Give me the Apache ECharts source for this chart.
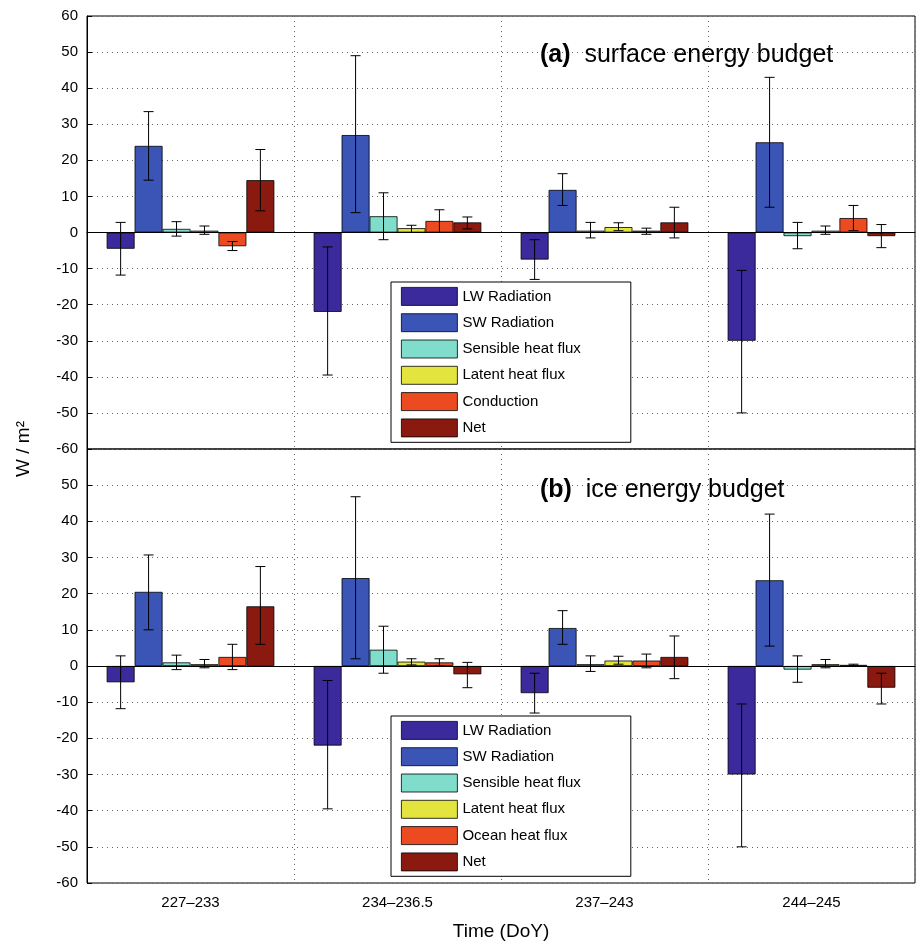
<!DOCTYPE html>
<html><head><meta charset="utf-8">
<script src="https://cdn.jsdelivr.net/npm/echarts@6/dist/echarts.min.js"></script>
<style>html,body{margin:0;background:#fff}#chart{width:919px;height:944px}</style>
</head><body><div id="chart"></div>
<script>
// categorías y nombres de series
const categories = ['227\u2013233', '234\u2013236.5', '237\u2013243', '244\u2013245'];
const namesA = ['LW Radiation', 'SW Radiation', 'Sensible heat flux', 'Latent heat flux', 'Conduction', 'Net'];
const namesB = ['LW Radiation', 'SW Radiation', 'Sensible heat flux', 'Latent heat flux', 'Ocean heat flux', 'Net'];
const colors = ['#3b2a9c', '#3a55b6', '#80dccb', '#e4e43e', '#ec4b22', '#8a1a10'];

// (a) valores y barras de error [min, max], una fila por serie
const surfVals = [[-4.5, -22, -7.5, -30], [24, 27, 11.8, 25], [1, 4.5, 0.5, -1], [0.5, 1.2, 1.5, 0.5], [-3.8, 3.2, 0.5, 4], [14.5, 2.8, 2.8, -1]];
const surfErr = [
  [[-11.8, 2.8], [-39.5, -4], [-13, -2], [-50, -10.5]],
  [[14.5, 33.5], [5.5, 49], [7.5, 16.3], [7, 43]],
  [[-1, 3], [-2, 11], [-1.5, 2.8], [-4.5, 2.8]],
  [[-0.5, 1.8], [0, 2], [0.5, 2.7], [-0.5, 1.8]],
  [[-5, -2.5], [0, 6.3], [-0.5, 1.2], [0.5, 7.5]],
  [[6, 23], [1, 4.3], [-1.5, 7], [-4.2, 2.2]]
];
// (b)
const iceVals = [[-4.5, -22, -7.5, -30], [20.5, 24.3, 10.5, 23.7], [1, 4.5, 0.5, -1], [0.5, 1.2, 1.5, 0.5], [2.5, 1, 1.5, 0.3], [16.5, -2.3, 2.5, -6]];
const iceErr = [
  [[-11.8, 2.8], [-39.5, -4], [-13, -2], [-50, -10.5]],
  [[10, 30.7], [2, 46.8], [6, 15.3], [5.5, 42]],
  [[-1, 3], [-2, 11], [-1.5, 2.8], [-4.5, 2.8]],
  [[-0.5, 1.8], [0.3, 2], [0.5, 2.7], [-0.5, 1.8]],
  [[-1, 6], [0, 2], [-0.5, 3.3], [0, 0.5]],
  [[6, 27.5], [-6, 1], [-3.5, 8.3], [-10.5, -2]]
];

const GAP = 0.19;
function errSeries(err, k, axis) {
  return {
    type: 'custom', xAxisIndex: axis, yAxisIndex: axis, silent: true, z: 5,
    data: err[k].map((e, i) => [i, e[0], e[1]]),
    renderItem: function (params, api) {
      const w = api.size([1, 0])[0] * (1 - GAP) / 6;
      const lo = api.coord([api.value(0), api.value(1)]);
      const hi = api.coord([api.value(0), api.value(2)]);
      const x = lo[0] + (k - 2.5) * w;
      const cap = 5;
      const st = { stroke: '#000', lineWidth: 1 };
      return { type: 'group', children: [
        { type: 'line', shape: { x1: x, y1: lo[1], x2: x, y2: hi[1] }, style: st },
        { type: 'line', shape: { x1: x - cap, y1: lo[1], x2: x + cap, y2: lo[1] }, style: st },
        { type: 'line', shape: { x1: x - cap, y1: hi[1], x2: x + cap, y2: hi[1] }, style: st }
      ]};
    }
  };
}

const series = [];
[[namesA, surfVals, surfErr], [namesB, iceVals, iceErr]].forEach(([names, vals, err], axis) => {
  names.forEach((n, k) => {
    series.push({
      name: n, type: 'bar', xAxisIndex: axis, yAxisIndex: axis,
      barGap: '0%', barCategoryGap: (GAP * 100) + '%',
      itemStyle: { color: colors[k], borderColor: '#000', borderWidth: 0.8 },
      data: vals[k],
      markLine: k === 0 ? { silent: true, symbol: 'none', label: { show: false },
        lineStyle: { color: '#000', type: 'solid', width: 1 }, data: [{ yAxis: 0 }] } : undefined
    });
  });
  names.forEach((n, k) => series.push(errSeries(err, k, axis)));
});

const font = 'Liberation Sans, Arial, sans-serif';
const yAx = (hideMax) => ({
  type: 'value', min: -60, max: 60, interval: 10,
  axisLine: { show: true, lineStyle: { color: '#000' } },
  axisTick: { show: true, inside: true, lineStyle: { color: '#000' } },
  axisLabel: { color: '#000', fontSize: 15, fontFamily: font, showMaxLabel: !hideMax, margin: 9 },
  splitLine: { lineStyle: { color: '#666', type: [1, 4] } }
});
const xAx = (idx, labels) => ({
  type: 'category', data: categories, gridIndex: idx,
  axisLine: { show: true, lineStyle: { color: '#000' } },
  axisTick: { show: false },
  axisLabel: { show: labels, color: '#000', fontSize: 15, fontFamily: font, margin: 12 },
  splitLine: { show: true, lineStyle: { color: '#666', type: [1, 4] } }
});
const legend = (names, top) => ({
  data: names, orient: 'vertical', left: 391, top: top, width: 220,
  backgroundColor: '#fff', borderColor: '#000', borderWidth: 1, padding: [5, 50, 5, 10],
  itemWidth: 56, itemHeight: 18, itemGap: 7.5, icon: 'rect', selectedMode: false,
  itemStyle: { borderColor: '#000', borderWidth: 0.8 },
  textStyle: { color: '#000', fontSize: 15, fontFamily: font }
});

const titleStyle = { rich: { b: { fontWeight: 'bold', fontSize: 25, fontFamily: font } }, fontSize: 25, fontWeight: 'normal', fontFamily: font, color: '#000' };
const chart = echarts.init(document.getElementById('chart'));
chart.setOption({
  backgroundColor: '#fff',
  animation: false,
  grid: [
    { left: 87, top: 16, width: 828, height: 433, show: true, borderColor: '#000', backgroundColor: 'transparent' },
    { left: 87, top: 449, width: 828, height: 434, show: true, borderColor: '#000', backgroundColor: 'transparent' }
  ],
  xAxis: [xAx(0, false), xAx(1, true)],
  yAxis: [Object.assign({ gridIndex: 0 }, yAx(false)), Object.assign({ gridIndex: 1 }, yAx(true))],
  legend: [legend(namesA, 282), legend(namesB, 716)],
  title: [
    { text: '{b|(a)}  surface energy budget', left: 535, top: 38, textStyle: titleStyle },
    { text: '{b|(b)}  ice energy budget', left: 535, top: 473, textStyle: titleStyle }
  ],
  graphic: [
    { type: 'text', x: 24, y: 449, rotation: Math.PI / 2,
      style: { text: 'W / m\u00b2', font: '19px ' + font, fill: '#000', align: 'center', verticalAlign: 'middle' } },
    { type: 'text', x: 501, y: 932,
      style: { text: 'Time (DoY)', font: '19px ' + font, fill: '#000', align: 'center', verticalAlign: 'middle' } }
  ],
  series: series
});
</script></body></html>
